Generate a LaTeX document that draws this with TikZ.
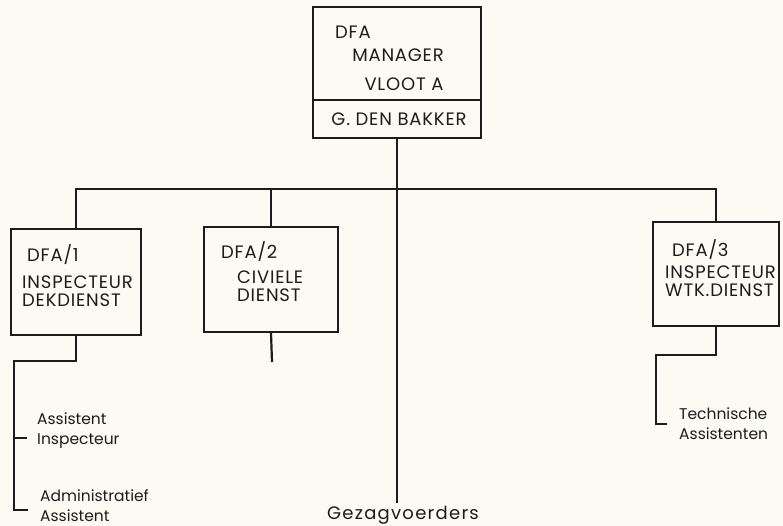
\documentclass[tikz,border=0pt]{standalone}
\usepackage{fontspec}
\setmainfont{Poppins}
\newfontfamily\boxfont[LetterSpace=4.5]{Poppins}
\newfontfamily\wijdfont[LetterSpace=7]{Poppins}
\usetikzlibrary{positioning}
\definecolor{paper}{RGB}{252,251,243}
\definecolor{ink}{RGB}{28,28,28}
\begin{document}
\begin{tikzpicture}[x=1pt,y=-1pt,
    line/.style={ink,line width=2.2pt},
    box/.style={draw=ink,line width=2.2pt,rectangle,inner sep=0pt},
    lbl/.style={ink,inner sep=0pt,font=\boxfont\fontsize{18}{17.5}\selectfont,align=left},
    sub/.style={ink,inner sep=0pt,font=\fontsize{15.5}{20}\selectfont,align=left}]
  \fill[paper] (0,0) rectangle (783,526);
  \useasboundingbox (0,0) rectangle (783,526);
  % manager box
  \node[box,minimum width=168,minimum height=93] (mgr) at (397,53.5) {};
  \node[box,minimum width=168,minimum height=38] (naam) at (397,119) {};
  \node[lbl,anchor=west] (mgrcode) at (335,32) {DFA};
  \node[lbl] (mgrtitel) at (398,55) {MANAGER};
  \node[lbl] (vloot) at (404,84) {VLOOT A};
  \node[lbl] (bakker) at (399,119) {G. DEN BAKKER};
  % departments
  \node[box,minimum width=130,minimum height=106] (d1) at (76,282) {};
  \node[box,minimum width=134,minimum height=105] (d2) at (271,279.5) {};
  \node[box,minimum width=126,minimum height=104] (d3) at (716,274) {};
  \node[lbl,anchor=west] (d1code) at (27,255) {DFA/1};
  \node[lbl,anchor=west] (d1naam) at (22,291) {INSPECTEUR\\DEKDIENST};
  \node[lbl,anchor=west] (d2code) at (221,252) {DFA/2};
  \node[lbl,anchor=west] (d2naam) at (237,286) {CIVIELE\\DIENST};
  \node[lbl,anchor=west] (d3code) at (672,250) {DFA/3};
  \node[lbl,anchor=west] (d3naam) at (665,281) {INSPECTEUR\\WTK.DIENST};
  % staff below
  \node[sub,anchor=west] (assinsp) at (37,431) {Assistent\\Inspecteur};
  \node[sub,anchor=west] (admass) at (40,506) {Administratief\\Assistent};
  \node[sub,anchor=west] (techass) at (679,424) {Technische\\Assistenten};
  \node[ink,inner sep=0pt,font=\wijdfont\fontsize{18}{18}\selectfont] (gezag) at (403,515) {Gezagvoerders};
  % connectors
  \coordinate (bus) at (397,189);
  \coordinate (k1) at (14,361);
  \coordinate (k3) at (656,355);
  \coordinate (d2end) at (272,362);
  \draw[ink,line width=2.8pt] (naam.south) -- (naam.south |- 0,503);
  \draw[line] (d1.north) |- (bus) -| (d3.north);
  \draw[line] (d2.north) -- (d2.north |- bus);
  \draw[line] (d1.south) |- (k1) |- ([xshift=-12pt]admass.west |- 0,510);
  \draw[line] (k1 |- 0,438) -- ([xshift=-10pt]assinsp.west |- 0,438);
  \draw[line] (d2.south) -- (d2end);
  \draw[line] (d3.south) |- (k3) |- ([xshift=-12pt]techass.west);
\end{tikzpicture}
\end{document}
